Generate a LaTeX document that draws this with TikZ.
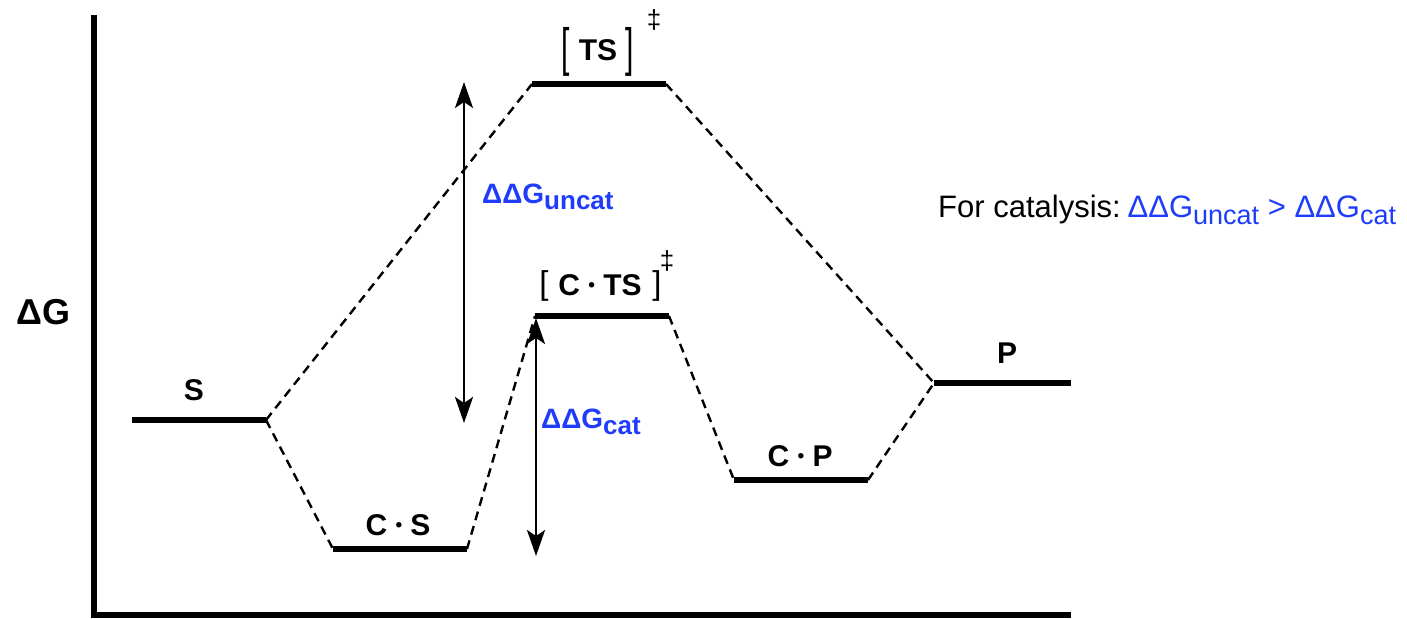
\documentclass[tikz,border=0pt]{standalone}
\usepackage{fontspec}
\setmainfont{Liberation Sans}
\usetikzlibrary{arrows.meta}
\definecolor{dgblue}{RGB}{30,60,250}
\newcommand{\mydot}{\raisebox{3.5pt}{\fontsize{19}{19}\selectfont •}}
\begin{document}
\begin{tikzpicture}[x=1pt,y=-1pt,
  level/.style={line width=5.5pt},
  axis/.style={line width=6pt},
  link/.style={line width=2.4pt,dash pattern=on 9pt off 6pt},
  dblarrow/.style={line width=2.6pt,{Stealth[length=26pt,width=18pt,inset=6pt]}-{Stealth[length=26pt,width=18pt,inset=6pt]}},
  lbl/.style={font=\fontsize{30}{32}\selectfont\bfseries,inner sep=0pt},
  brk/.style={font=\fontsize{30}{30}\selectfont,inner sep=0pt},
  dag/.style={font=\fontsize{26}{26}\selectfont,inner sep=0pt},
  blue/.style={text=dgblue,inner sep=0pt}
]
\useasboundingbox (0,0) rectangle (1407,618);
% axes
\coordinate (ytop) at (94,15);
\coordinate (origin) at (94,615);
\coordinate (xend) at (1071,615);
\draw[axis] (ytop) -- (origin) -- (xend);
% levels
\coordinate (S1) at (132,420); \coordinate (S2) at (266,420);
\coordinate (CS1) at (333,549); \coordinate (CS2) at (467,549);
\coordinate (TS1) at (532,84); \coordinate (TS2) at (666,84);
\coordinate (CTS1) at (535,316); \coordinate (CTS2) at (669,316);
\coordinate (CP1) at (734,480); \coordinate (CP2) at (868,480);
\coordinate (P1) at (934,383); \coordinate (P2) at (1071,383);
\foreach \a/\b in {S1/S2,CS1/CS2,TS1/TS2,CTS1/CTS2,CP1/CP2,P1/P2}
  \draw[level] (\a) -- (\b);
% dashed connections
\draw[link] (S2) -- (TS1);
\draw[link] (S2) -- (CS1);
\draw[link] (CS2) -- (CTS1);
\draw[link] (TS2) -- (P1);
\draw[link] (CTS2) -- (CP1);
\draw[link] (CP2) -- (P1);
% energy arrows
\coordinate (Ua) at (464,82); \coordinate (Ub) at (464,423);
\coordinate (Ca) at (536,318); \coordinate (Cb) at (536,556);
\draw[dblarrow] (Ua) -- (Ub);
\draw[dblarrow] (Ca) -- (Cb);
% labels
\node[lbl] (Slbl) at (194,390) {S};
\node[lbl] (CSlbl) at (398,525) {C \mydot{} S};
\node[lbl] (CPlbl) at (800,456) {C \mydot{} P};
\node[lbl] (Plbl) at (1007,353) {P};
\node[lbl] (TSlbl) at (598,50) {TS};
\node[brk] (TSl) at (566,52) {\scalebox{1}[1.75]{[}};
\node[brk] (TSr) at (630,52) {\scalebox{1}[1.75]{]}};
\node[dag] (TSd) at (654,20) {‡};
\node[lbl] (CTSlbl) at (600,285) {C \mydot{} TS};
\node[brk,font=\fontsize{33}{33}\selectfont] (CTSl) at (544,286) {[};
\node[brk,font=\fontsize{33}{33}\selectfont] (CTSr) at (657,286) {]};
\node[dag] (CTSd) at (667,261) {‡};
\node[font=\fontsize{36}{38}\selectfont\bfseries,anchor=base west,inner sep=0pt] (dG) at (16,324) {ΔG};
\node[blue,anchor=base west,font=\fontsize{28}{30}\selectfont\bfseries] (uncat) at (482,203) {ΔΔG\raisebox{-0.22em}{\fontsize{26}{28}\selectfont uncat}};
\node[blue,anchor=base west,font=\fontsize{28}{30}\selectfont\bfseries] (cat) at (541,428) {ΔΔG\raisebox{-0.22em}{\fontsize{26}{28}\selectfont cat}};
\node[anchor=base west,inner sep=0pt,font=\fontsize{31}{33}\selectfont] (rule) at (938,217) {For catalysis:\hspace{0.22em}\textcolor{dgblue}{ΔΔG\raisebox{-0.25em}{\fontsize{27}{29}\selectfont uncat} > ΔΔG\raisebox{-0.25em}{\fontsize{27}{29}\selectfont cat}}};
\end{tikzpicture}
\end{document}
